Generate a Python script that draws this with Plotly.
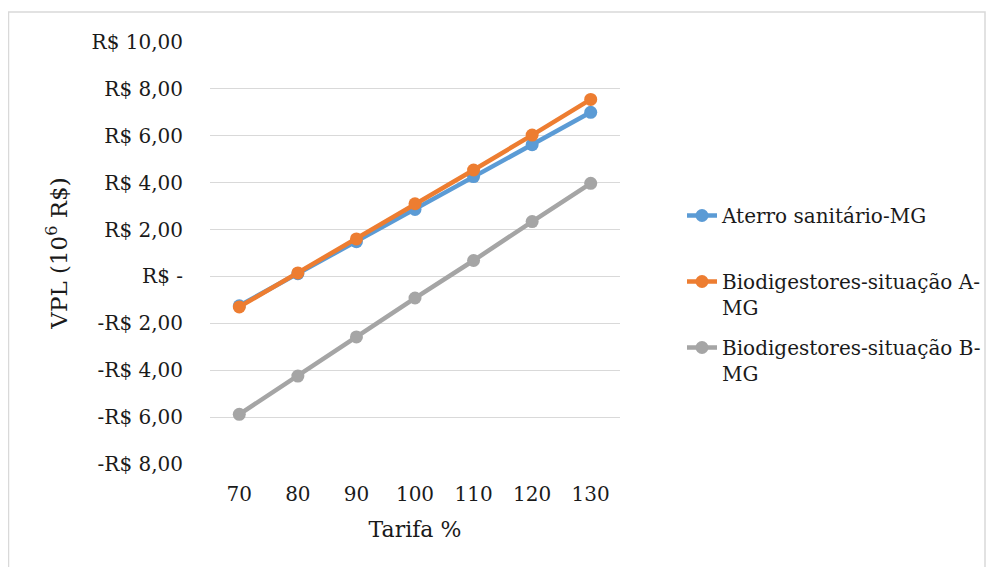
import plotly.graph_objects as go

tarifa = ["70", "80", "90", "100", "110", "120", "130"]
aterro = [-1.25, 0.12, 1.48, 2.86, 4.26, 5.62, 7.00]
bio_a = [-1.30, 0.15, 1.60, 3.10, 4.54, 6.03, 7.55]
bio_b = [-5.88, -4.25, -2.58, -0.92, 0.68, 2.34, 3.97]

names = ["Aterro sanitário-MG", "Biodigestores-situação A-<br>MG", "Biodigestores-situação B-<br>MG"]
colors = ["#5b9bd5", "#ed7d31", "#a5a5a5"]

y_tickvals = [10, 8, 6, 4, 2, 0, -2, -4, -6, -8]
y_ticktext = ["R$ 10,00", "R$ 8,00", "R$ 6,00", "R$ 4,00", "R$ 2,00", "R$ -",
              "-R$ 2,00", "-R$ 4,00", "-R$ 6,00", "-R$ 8,00"]

FONT = "DejaVu Serif"
TXT = "#1a1a1a"

fig = go.Figure()
series = [aterro, bio_a, bio_b]
legends = ["legend", "legend2", "legend3"]
for vals, name, col, lg in zip(series, names, colors, legends):
    fig.add_trace(go.Scatter(
        x=tarifa, y=vals, name=name, mode="lines+markers",
        line=dict(color=col, width=4.5),
        marker=dict(color=col, size=13),
        legend=lg, showlegend=True,
    ))

OFF = 8
W, H = 994 - OFF, 567 - OFF
PL, PR, PT, PB = 210, 620, 42, 464
L, T = PL - OFF, PT - OFF
R, B = W - (PR - OFF), H - (PB - OFF)
pw, ph = W - L - R, H - T - B

def px_x(px):
    return (px - PL) / pw

def px_y(py):
    return (PB - py) / ph

leg_common = dict(font=dict(family=FONT, size=20, color=TXT),
                  bgcolor="rgba(0,0,0,0)", xanchor="left", yanchor="top",
                  valign="top", borderwidth=0)

fig.update_layout(
    width=W, height=H,
    margin=dict(l=L, r=R, t=T, b=B, autoexpand=False),
    paper_bgcolor="white", plot_bgcolor="white",
    font=dict(family=FONT, size=20, color=TXT),
    showlegend=True,
    legend=dict(x=px_x(682), y=px_y(196), **leg_common),
    legend2=dict(x=px_x(682), y=px_y(262), **leg_common),
    legend3=dict(x=px_x(682), y=px_y(328), **leg_common),
    xaxis=dict(
        type="category", range=[-0.5, 6.5], automargin=False,
        showgrid=False, showline=False, zeroline=False, ticks="",
        tickfont=dict(family=FONT, size=20, color=TXT),
        ticklabelstandoff=16,
        title=dict(text="Tarifa %", font=dict(family=FONT, size=22, color=TXT), standoff=16),
    ),
    yaxis=dict(
        range=[-8, 10], tickvals=y_tickvals, ticktext=y_ticktext, automargin=False,
        showgrid=True, gridcolor="#d9d9d9", gridwidth=1.3,
        zeroline=False, showline=False, ticks="",
        tickfont=dict(family=FONT, size=20, color=TXT),
        ticklabelstandoff=26,
        title=dict(text="VPL (10<sup>6</sup> R$)", font=dict(family=FONT, size=23, color=TXT), standoff=17),
    ),
    shapes=[dict(type="rect", xref="paper", yref="paper",
                 x0=px_x(8.5), x1=px_x(985), y0=px_y(580), y1=px_y(12),
                 line=dict(color="#d9d9d9", width=1.5), fillcolor="rgba(0,0,0,0)", layer="below")],
)

fig.write_html("out.html")
